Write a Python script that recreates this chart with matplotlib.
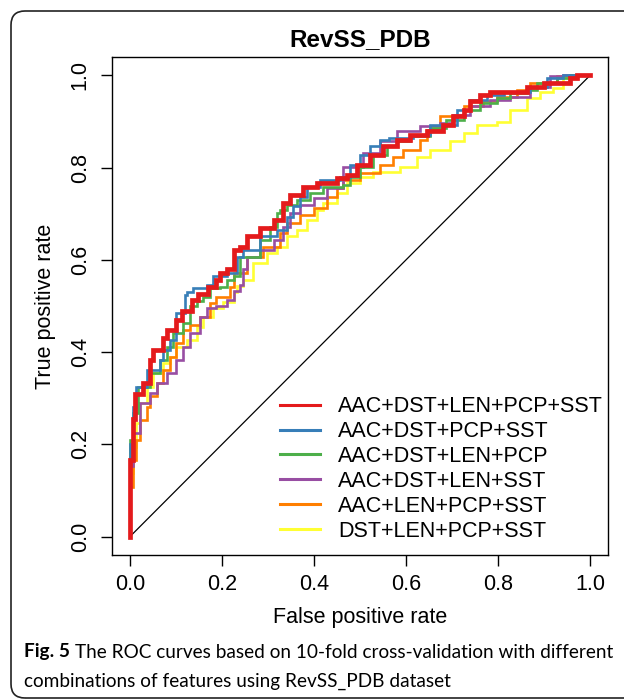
import matplotlib
matplotlib.use("Agg")
import matplotlib.pyplot as plt
from matplotlib.lines import Line2D
from matplotlib.patches import FancyBboxPatch

# ROC points (false positive rate, true positive rate)
red_fpr = [0, 0, 0.007, 0.011, 0.029, 0.043, 0.05, 0.072, 0.08, 0.1, 0.112, 0.134, 0.148, 0.17, 0.188,
           0.196, 0.21, 0.225, 0.239, 0.254, 0.283, 0.312, 0.333, 0.348, 0.377, 0.406, 0.449, 0.471,
           0.493, 0.522, 0.551, 0.58, 0.609, 0.645, 0.681, 0.703, 0.725, 0.739, 0.761, 0.783, 0.797,
           0.862, 0.899, 0.957, 0.971, 1.0]
red_tpr = [0, 0.09, 0.167, 0.254, 0.31, 0.334, 0.383, 0.405, 0.43, 0.449, 0.47, 0.49, 0.513, 0.525, 0.542,
           0.557, 0.571, 0.58, 0.622, 0.629, 0.651, 0.669, 0.687, 0.723, 0.741, 0.759, 0.767, 0.777,
           0.785, 0.806, 0.828, 0.846, 0.86, 0.871, 0.879, 0.893, 0.911, 0.925, 0.944, 0.958, 0.965,
           0.965, 0.976, 0.983, 0.994, 1.0]

blue_fpr = [0, 0, 0.007, 0.014, 0.036, 0.065, 0.072, 0.087, 0.101, 0.12, 0.123, 0.138, 0.167, 0.181,
            0.21, 0.232, 0.246, 0.283, 0.319, 0.341, 0.355, 0.37, 0.384, 0.413, 0.457, 0.478, 0.5,
            0.522, 0.543, 0.562, 0.616, 0.652, 0.71, 0.739, 0.775, 0.812, 0.87, 0.906, 0.942, 1.0]
blue_tpr = [0, 0.1, 0.2, 0.282, 0.325, 0.362, 0.383, 0.405, 0.427, 0.485, 0.524, 0.53, 0.539, 0.545,
            0.564, 0.571, 0.607, 0.622, 0.651, 0.665, 0.694, 0.716, 0.737, 0.759, 0.773, 0.78, 0.806,
            0.828, 0.846, 0.86, 0.864, 0.871, 0.893, 0.925, 0.947, 0.958, 0.965, 0.976, 0.994, 1.0]

green_fpr = [0, 0, 0.007, 0.018, 0.043, 0.065, 0.08, 0.094, 0.116, 0.13, 0.145, 0.159, 0.174, 0.196,
             0.21, 0.225, 0.239, 0.283, 0.304, 0.319, 0.326, 0.341, 0.362, 0.391, 0.42, 0.464, 0.478,
             0.5, 0.529, 0.558, 0.58, 0.609, 0.652, 0.688, 0.725, 0.761, 0.797, 0.826, 0.862, 0.884,
             0.928, 0.957, 1.0]
green_tpr = [0, 0.138, 0.21, 0.268, 0.325, 0.354, 0.383, 0.412, 0.441, 0.463, 0.499, 0.51, 0.52, 0.539,
             0.542, 0.557, 0.564, 0.607, 0.643, 0.672, 0.701, 0.708, 0.719, 0.73, 0.745, 0.759, 0.763,
             0.78, 0.802, 0.828, 0.846, 0.857, 0.868, 0.886, 0.904, 0.925, 0.94, 0.951, 0.962, 0.969,
             0.983, 0.994, 1.0]

purple_fpr = [0, 0, 0.007, 0.022, 0.043, 0.058, 0.08, 0.101, 0.116, 0.13, 0.152, 0.167, 0.188, 0.21,
              0.225, 0.239, 0.246, 0.254, 0.283, 0.312, 0.333, 0.348, 0.37, 0.399, 0.428, 0.464, 0.507,
              0.543, 0.58, 0.63, 0.674, 0.703, 0.739, 0.783, 0.826, 0.87, 0.913, 0.942, 1.0]
purple_tpr = [0, 0.1, 0.152, 0.224, 0.289, 0.311, 0.333, 0.354, 0.383, 0.412, 0.441, 0.477, 0.495, 0.499,
              0.513, 0.532, 0.545, 0.58, 0.607, 0.622, 0.643, 0.672, 0.701, 0.719, 0.734, 0.755, 0.802,
              0.831, 0.857, 0.879, 0.89, 0.897, 0.915, 0.933, 0.947, 0.954, 0.976, 0.998, 1.0]

orange_fpr = [0, 0, 0.007, 0.014, 0.022, 0.036, 0.043, 0.058, 0.072, 0.087, 0.101, 0.116, 0.13, 0.152,
              0.174, 0.188, 0.217, 0.225, 0.254, 0.29, 0.326, 0.341, 0.37, 0.399, 0.428, 0.449, 0.464,
              0.5, 0.543, 0.572, 0.594, 0.63, 0.645, 0.674, 0.725, 0.768, 0.797, 0.841, 0.87, 0.928,
              0.971, 1.0]
orange_tpr = [0, 0.044, 0.108, 0.166, 0.21, 0.253, 0.282, 0.304, 0.333, 0.362, 0.39, 0.419, 0.448, 0.459,
              0.477, 0.506, 0.52, 0.542, 0.571, 0.607, 0.629, 0.658, 0.68, 0.698, 0.712, 0.737, 0.755,
              0.773, 0.788, 0.806, 0.824, 0.839, 0.86, 0.882, 0.911, 0.933, 0.944, 0.954, 0.969, 0.983,
              0.998, 1.0]

yellow_fpr = [0, 0, 0.007, 0.014, 0.022, 0.036, 0.051, 0.072, 0.087, 0.101, 0.123, 0.145, 0.159, 0.181,
              0.203, 0.225, 0.232, 0.246, 0.268, 0.297, 0.319, 0.341, 0.362, 0.384, 0.406, 0.42, 0.449,
              0.471, 0.5, 0.529, 0.587, 0.623, 0.652, 0.696, 0.725, 0.754, 0.797, 0.826, 0.862, 0.891,
              0.92, 0.942, 0.964, 1.0]
yellow_tpr = [0, 0.095, 0.137, 0.195, 0.246, 0.289, 0.325, 0.354, 0.376, 0.39, 0.412, 0.427, 0.455, 0.477,
              0.495, 0.508, 0.531, 0.544, 0.557, 0.593, 0.615, 0.629, 0.651, 0.665, 0.687, 0.708, 0.723,
              0.745, 0.767, 0.78, 0.79, 0.802, 0.824, 0.839, 0.857, 0.875, 0.893, 0.9, 0.925, 0.951,
              0.965, 0.972, 0.994, 1.0]

labels = ["AAC+DST+LEN+PCP+SST", "AAC+DST+PCP+SST", "AAC+DST+LEN+PCP",
          "AAC+DST+LEN+SST", "AAC+LEN+PCP+SST", "DST+LEN+PCP+SST"]
colors = ["#E41A1C", "#377EB8", "#4DAF4A", "#984EA3", "#FF7F00", "#FFFF33"]
curves = [(red_fpr, red_tpr), (blue_fpr, blue_tpr), (green_fpr, green_tpr),
          (purple_fpr, purple_tpr), (orange_fpr, orange_tpr), (yellow_fpr, yellow_tpr)]

font = "Liberation Sans"
plt.rcParams["font.family"] = font

fig = plt.figure(figsize=(6.24, 6.99), dpi=100)
ax = fig.add_axes([111.6 / 624, (699 - 555) / 699, 496.8 / 624, 498 / 699])

ax.plot([0, 1], [0, 1], color="black", lw=0.9, zorder=1)
# draw red last so it sits on top
for i in reversed(range(len(curves))):
    fx, ty = curves[i]
    ax.plot(fx, ty, color=colors[i], lw=3.4 if i == 0 else 1.9,
            drawstyle="steps-pre", solid_joinstyle="miter", zorder=2 + (len(curves) - i))

ax.set_xlim(-0.04, 1.04)
ax.set_ylim(-0.04, 1.04)
ticks = [0.0, 0.2, 0.4, 0.6, 0.8, 1.0]
ax.set_xticks(ticks)
ax.set_yticks(ticks)
ax.set_xticklabels([f"{t:.1f}" for t in ticks])
ax.set_yticklabels([f"{t:.1f}" for t in ticks], rotation=90, va="center")
ax.tick_params(length=8, width=1, labelsize=15.5, pad=6)
ax.tick_params(axis="y", pad=7)
for s in ax.spines.values():
    s.set_linewidth(1)

ax.set_xlabel("False positive rate", fontsize=15.5, labelpad=8)
ax.set_ylabel("True positive rate", fontsize=15.5, labelpad=10)
ax.set_title("RevSS_PDB", fontsize=17.5, fontweight="bold", pad=8)

handles = [Line2D([0], [0], color=c, lw=2.2) for c in colors]
ax.legend(handles, labels, loc="lower left", bbox_to_anchor=(0.339, 0.027),
          frameon=False, fontsize=15.5, handlelength=1.85, handletextpad=0.85,
          labelspacing=0.18, borderpad=0, borderaxespad=0)

# rounded outer frame, cut by right and bottom edges
frame = FancyBboxPatch((0.11, 0.01), 6.5, 6.87, boxstyle="round,pad=0,rounding_size=0.14",
                       transform=fig.dpi_scale_trans, fill=False, edgecolor="#222222", lw=1.2)
fig.add_artist(frame)

cap_font = "Lato"
cap_size = 13.65
t1 = fig.text(24 / 624, 1 - 652 / 699, "Fig. 5", fontsize=cap_size, fontweight="bold",
              family=cap_font, va="center", ha="left")
fig.canvas.draw()
bb = t1.get_window_extent()
fig.text((bb.x1 + 5) / 624, 1 - 652 / 699,
         "The ROC curves based on 10-fold cross-validation with different",
         fontsize=cap_size, family=cap_font, va="center", ha="left")
fig.text(24 / 624, 1 - 681 / 699, "combinations of features using RevSS_PDB dataset",
         fontsize=cap_size, family=cap_font, va="center", ha="left")

fig.savefig("out.png", dpi=100)
